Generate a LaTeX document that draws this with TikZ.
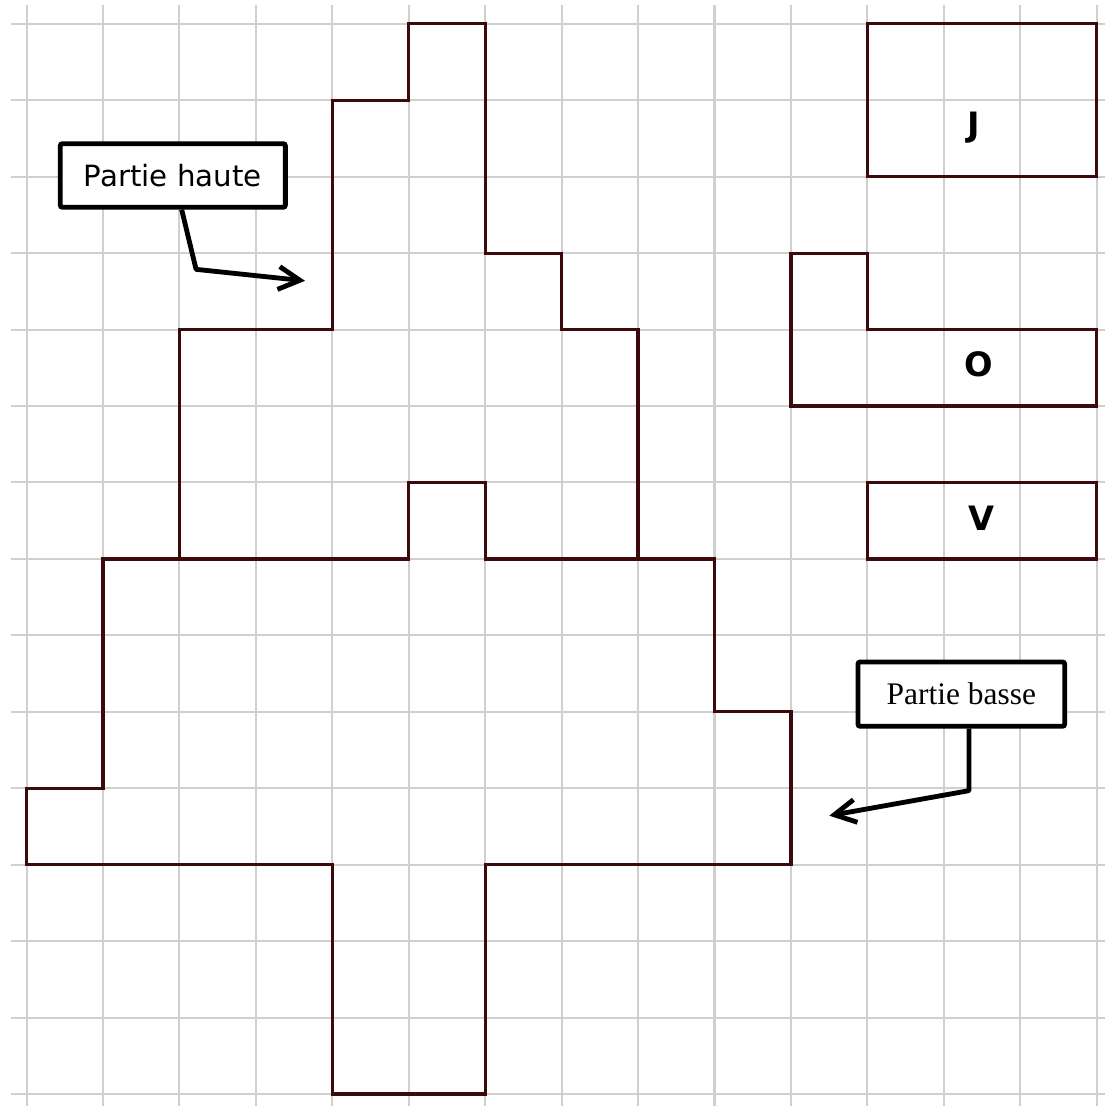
\documentclass[tikz,border=0pt]{standalone}
\usepackage{fontspec}
\setmainfont{Liberation Serif}
\newfontfamily\verd{DejaVu Sans}
\usetikzlibrary{arrows.meta}
\definecolor{bordeaux}{RGB}{60,10,10}
\definecolor{quadrillage}{RGB}{208,208,208}

\begin{document}
\begin{tikzpicture}[x={(10mm, 0mm)}, y={(0mm, 10mm)},
    grille/.style={quadrillage, line width=0.75pt},
    contour/.style={bordeaux, line width=1.2pt},
    bulle/.style={draw, line width=1.8pt, rounded corners=0.8pt, inner sep=0pt, fill=white},
    fleche/.style={line width=1.8pt, line join=round, -{Straight Barb[length=2.8mm, width=3mm]}},
    lettre/.style={anchor=base, font=\verd\bfseries\fontsize{12.5}{14}\selectfont}]
  \useasboundingbox (-0.347, -0.157) rectangle (14.109, 14.312);

  \foreach \d in {0, 1, ..., 14} {
    \draw[grille] (\d, -0.16) to (\d, 14.25);
    \draw[grille] (-0.2, \d) to (14.11, \d);
  }

  \draw[contour] (4, 0) to (6, 0) to (6, 3) to (10, 3) to (10, 5) to (9, 5) to (9, 7)
    to (8, 7) to (8, 10) to (7, 10) to (7, 11) to (6, 11) to (6, 14) to (5, 14) to (5, 13)
    to (4, 13) to (4, 10) to (2, 10) to (2, 7) to (1, 7) to (1, 4) to (0, 4) to (0, 3)
    to (4, 3) -- cycle;
  \draw[contour] (2, 7) to (5, 7) to (5, 8) to (6, 8) to (6, 7) to (8, 7);

  \draw[contour] (11, 12) rectangle (14, 14);
  \draw[contour] (10, 9) to (14, 9) to (14, 10) to (11, 10) to (11, 11) to (10, 11) -- cycle;
  \draw[contour] (11, 7) rectangle (14, 8);

  \node[lettre] (J) at (12.39, 12.525) {J};
  \node[lettre] (O) at (12.455, 9.38) {O};
  \node[lettre] (V) at (12.49, 7.378) {V};

  \node[bulle, minimum width=2.944cm, minimum height=0.832cm,
        font=\verd\fontsize{10.9}{13}\selectfont] (haute) at (1.914, 12.016) {Partie haute};
  \node[bulle, minimum width=2.704cm, minimum height=0.841cm,
        font=\fontsize{11.7}{14}\selectfont] (basse) at (12.229, 5.231) {Partie basse};

  \coordinate (hcoude) at (2.218, 10.788);
  \coordinate (hpointe) at (3.643, 10.638);
  \coordinate (bcoude) at (12.329, 3.968);
  \coordinate (bpointe) at (10.502, 3.641);

  \draw[fleche] ([xshift=1.16mm]haute.south) to (hcoude) to (hpointe);
  \draw[fleche] ([xshift=1mm]basse.south) to (bcoude) to (bpointe);
\end{tikzpicture}
\end{document}
